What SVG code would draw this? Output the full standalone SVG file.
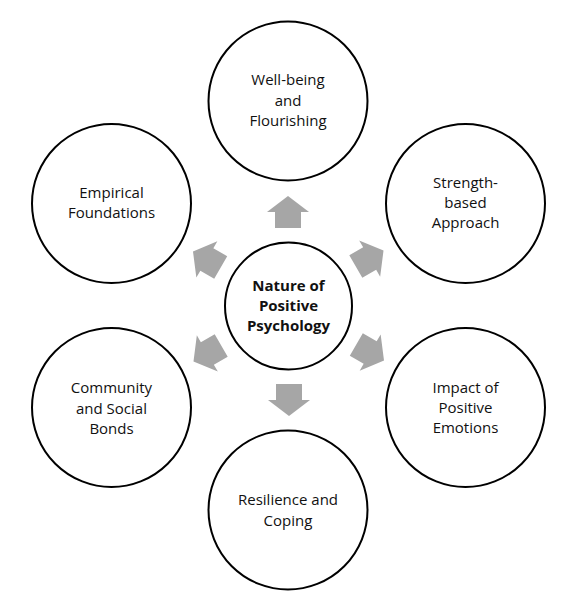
<svg xmlns="http://www.w3.org/2000/svg" width="571" height="606" viewBox="0 0 571 606">
<style>
.c{fill:#fff;stroke:#000;stroke-width:2}
.t{font-family:"Open Sans","Liberation Sans",sans-serif;font-size:15px;fill:#111;text-anchor:middle}
.b{font-weight:bold;font-size:15px}
.a{fill:#a6a6a6}
</style>
<defs>
<path id="arr" d="M288,196 L309,212 L301,212 L301,228 L275,228 L275,212 L267,212 Z"/>
</defs>
<rect width="571" height="606" fill="#fff"/>
<g id="connectors" class="a">
<use href="#arr"/>
<use href="#arr" transform="rotate(60 288.5 306)"/>
<use href="#arr" transform="rotate(120 288.5 306)"/>
<use href="#arr" transform="rotate(180 288.5 306)"/>
<use href="#arr" transform="rotate(240 288.5 306)"/>
<use href="#arr" transform="rotate(300 288.5 306)"/>
</g>
<g id="center">
<circle class="c" cx="288.5" cy="306" r="63.5"/>
<text class="t b" x="288.5" y="291">Nature of</text>
<text class="t b" x="288.5" y="311">Positive</text>
<text class="t b" x="288.5" y="331">Psychology</text>
</g>
<g id="wellbeing">
<circle class="c" cx="288" cy="101" r="79.5"/>
<text class="t" x="288" y="85">Well-being</text>
<text class="t" x="288" y="105.5">and</text>
<text class="t" x="288" y="126">Flourishing</text>
</g>
<g id="strength">
<circle class="c" cx="465.5" cy="203.5" r="79.5"/>
<text class="t" x="465.5" y="188">Strength-</text>
<text class="t" x="465.5" y="208">based</text>
<text class="t" x="465.5" y="228">Approach</text>
</g>
<g id="impact">
<circle class="c" cx="465.5" cy="407.5" r="79.5"/>
<text class="t" x="465.5" y="393">Impact of</text>
<text class="t" x="465.5" y="413">Positive</text>
<text class="t" x="465.5" y="433">Emotions</text>
</g>
<g id="resilience">
<circle class="c" cx="288" cy="510" r="79.5"/>
<text class="t" x="288" y="505">Resilience and</text>
<text class="t" x="288" y="526">Coping</text>
</g>
<g id="community">
<circle class="c" cx="111.5" cy="407.5" r="79.5"/>
<text class="t" x="111.5" y="392.5">Community</text>
<text class="t" x="111.5" y="413.5">and Social</text>
<text class="t" x="111.5" y="433.5">Bonds</text>
</g>
<g id="empirical">
<circle class="c" cx="111.5" cy="203.5" r="79.5"/>
<text class="t" x="111.5" y="198">Empirical</text>
<text class="t" x="111.5" y="218">Foundations</text>
</g>
</svg>
